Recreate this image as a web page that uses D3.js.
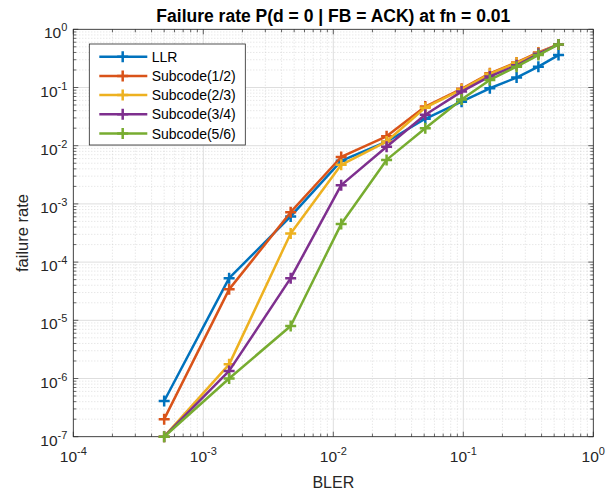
<!DOCTYPE html>
<html>
<head>
<meta charset="utf-8">
<script src="https://cdn.jsdelivr.net/npm/d3@7"></script>
<style>
  body { margin: 0; background: #fff; }
  text { font-family: "Liberation Sans", Arial, sans-serif; fill: #262626; }
</style>
</head>
<body>
<div id="viz"></div>
<script>
var width = 613,
    height = 491;

// plot box
var margin = {left: 73.3, right: 613 - 593.3, top: 29.3, bottom: 491 - 436.7};

// data
var bler = [5e-4, 1.58e-3, 4.7e-3, 0.0115, 0.0257, 0.051, 0.097, 0.16, 0.257, 0.378, 0.54];
var llr = [4.1e-7, 5.3e-5, 6.1e-4, 5.5e-3, 0.0117, 0.029, 0.057, 0.097, 0.148, 0.228, 0.36];
var sub12 = [2.0e-7, 3.4e-5, 7.2e-4, 6.4e-3, 0.0145, 0.047, 0.095, 0.175, 0.27, 0.40, 0.55];
var sub23 = [1e-7, 1.75e-6, 3.1e-4, 4.7e-3, 0.0118, 0.045, 0.092, 0.172, 0.265, 0.39, 0.55];
var sub34 = [1e-7, 1.35e-6, 5.3e-5, 2.1e-3, 9.6e-3, 0.034, 0.085, 0.155, 0.24, 0.38, 0.55];
var sub56 = [1e-7, 1.0e-6, 8.0e-6, 4.5e-4, 5.7e-3, 0.020, 0.062, 0.135, 0.228, 0.36, 0.55];

var seriesNames = ["LLR", "Subcode(1/2)", "Subcode(2/3)", "Subcode(3/4)", "Subcode(5/6)"];
var seriesValues = [llr, sub12, sub23, sub34, sub56];
var colors = ["#0072BD", "#D95319", "#EDB120", "#7E2F8E", "#77AC30"];

var xExp = [-4, -3, -2, -1, 0];
var yExp = [-7, -6, -5, -4, -3, -2, -1, 0];

var x = d3.scaleLog().domain([1e-4, 1]).range([margin.left, width - margin.right]);
var y = d3.scaleLog().domain([1e-7, 1]).range([height - margin.bottom, margin.top]);

var svg = d3.select("#viz").append("svg")
    .attr("width", width)
    .attr("height", height);

// minor values per decade (2..9)
function minors(lo, hi) {
    var out = [];
    for (var e = lo; e < hi; e++) {
        for (var k = 2; k <= 9; k++) out.push(k * Math.pow(10, e));
    }
    return out;
}
var xMinor = minors(-4, 0);
var yMinor = minors(-7, 0);
var xMaj = xExp.map(e => Math.pow(10, e));
var yMaj = yExp.map(e => Math.pow(10, e));

var x0 = x.range()[0], x1 = x.range()[1], y0 = y.range()[0], y1 = y.range()[1];

var grid = svg.append("g");
// minor grid, dotted
grid.selectAll(null).data(xMinor).enter().append("line")
    .attr("x1", d => x(d)).attr("x2", d => x(d))
    .attr("y1", y0).attr("y2", y1)
    .attr("stroke", "#c8c8c8").attr("stroke-width", 0.6).attr("stroke-dasharray", "1,2");
grid.selectAll(null).data(yMinor).enter().append("line")
    .attr("y1", d => y(d)).attr("y2", d => y(d))
    .attr("x1", x0).attr("x2", x1)
    .attr("stroke", "#c8c8c8").attr("stroke-width", 0.6).attr("stroke-dasharray", "1,2");
// major grid
grid.selectAll(null).data(xMaj).enter().append("line")
    .attr("x1", d => x(d)).attr("x2", d => x(d))
    .attr("y1", y0).attr("y2", y1)
    .attr("stroke", "#dedede").attr("stroke-width", 1);
grid.selectAll(null).data(yMaj).enter().append("line")
    .attr("y1", d => y(d)).attr("y2", d => y(d))
    .attr("x1", x0).attr("x2", x1)
    .attr("stroke", "#dedede").attr("stroke-width", 1);

// inward ticks on all four sides
function tickSet(g, vals, horiz, len, atEdge, dir) {
    g.selectAll(null).data(vals).enter().append("line")
        .attr("x1", d => horiz ? x(d) : atEdge)
        .attr("x2", d => horiz ? x(d) : atEdge + dir * len)
        .attr("y1", d => horiz ? atEdge : y(d))
        .attr("y2", d => horiz ? atEdge + dir * len : y(d))
        .attr("stroke", "#262626").attr("stroke-width", 0.7);
}
var ticks = svg.append("g");
tickSet(ticks, xMaj, true, 5, y0, -1);
tickSet(ticks, xMaj, true, 5, y1, 1);
tickSet(ticks, xMinor, true, 3, y0, -1);
tickSet(ticks, xMinor, true, 3, y1, 1);
tickSet(ticks, yMaj, false, 5, x0, 1);
tickSet(ticks, yMaj, false, 5, x1, -1);
tickSet(ticks, yMinor, false, 3, x0, 1);
tickSet(ticks, yMinor, false, 3, x1, -1);

svg.append("rect")
    .attr("x", x0).attr("y", y1)
    .attr("width", x1 - x0).attr("height", y0 - y1)
    .attr("fill", "none").attr("stroke", "#262626").attr("stroke-width", 0.8);

// tick labels 10^n
var xl = svg.append("g").selectAll("text").data(xExp).enter().append("text")
    .attr("x", d => x(Math.pow(10, d)))
    .attr("y", y0 + 25)
    .attr("text-anchor", "middle")
    .style("font-size", "15.5px");
xl.append("tspan").text("10");
xl.append("tspan").attr("dy", -7).style("font-size", "11px").text(d => d === 0 ? "0" : "-" + (-d));

var yl = svg.append("g").selectAll("text").data(yExp).enter().append("text")
    .attr("x", x0 - 6)
    .attr("y", d => y(Math.pow(10, d)) + 9)
    .attr("text-anchor", "end")
    .style("font-size", "15.5px");
yl.append("tspan").text("10");
yl.append("tspan").attr("dy", -7).style("font-size", "11px").text(d => d === 0 ? "0" : "-" + (-d));

// title and axis labels
svg.append("text")
    .attr("x", (x0 + x1) / 2).attr("y", 22)
    .attr("text-anchor", "middle")
    .style("font-size", "17.5px").style("font-weight", "bold")
    .style("fill", "#000")
    .text("Failure rate P(d = 0 | FB = ACK) at fn = 0.01");

svg.append("text")
    .attr("x", (x0 + x1) / 2).attr("y", 488)
    .attr("text-anchor", "middle")
    .style("font-size", "16px")
    .text("BLER");

svg.append("text")
    .attr("transform", "translate(28," + ((y0 + y1) / 2) + ") rotate(-90)")
    .attr("text-anchor", "middle")
    .style("font-size", "16.5px")
    .text("failure rate");

// series
var line = d3.line()
    .x(d => x(d[0]))
    .y(d => y(d[1]));

var plot = svg.append("g");
seriesValues.forEach(function(vals, i) {
    var pts = bler.map((b, j) => [b, vals[j]]);
    var g = plot.append("g");
    g.append("path")
        .attr("d", line(pts))
        .attr("fill", "none")
        .attr("stroke", colors[i])
        .attr("stroke-width", 2.5)
        .attr("stroke-linejoin", "round");
    g.selectAll(null).data(pts).enter().append("path")
        .attr("d", d => {
            var cx = x(d[0]), cy = y(d[1]), r = 5.5;
            return "M" + (cx - r) + "," + cy + "H" + (cx + r) + "M" + cx + "," + (cy - r) + "V" + (cy + r);
        })
        .attr("stroke", colors[i])
        .attr("stroke-width", 2.5);
});

// legend
var lg = svg.append("g");
lg.append("rect")
    .attr("x", 89.3).attr("y", 44)
    .attr("width", 156).attr("height", 101)
    .attr("fill", "#fff").attr("stroke", "#262626").attr("stroke-width", 0.8);
seriesNames.forEach(function(name, i) {
    var ly = 56.7 + i * 19.2;
    lg.append("line")
        .attr("x1", 99.3).attr("x2", 147.3)
        .attr("y1", ly).attr("y2", ly)
        .attr("stroke", colors[i]).attr("stroke-width", 2.5);
    lg.append("path")
        .attr("d", "M117.2," + ly + "H128.2M122.7," + (ly - 5.5) + "V" + (ly + 5.5))
        .attr("stroke", colors[i]).attr("stroke-width", 2.5);
    lg.append("text")
        .attr("x", 151.7).attr("y", ly + 5)
        .style("font-size", "14px")
        .style("fill", "#000")
        .text(name);
});
</script>
</body>
</html>
